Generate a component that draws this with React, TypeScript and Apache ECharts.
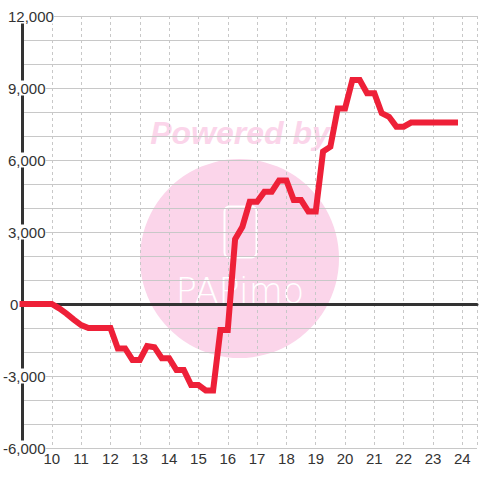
import React, { useEffect, useRef } from "react";
import * as echarts from "echarts";

// hours (x) and cumulative values (y)
const hours: number[] = [
  9, 9.25, 9.5, 9.75, 10, 10.25, 10.5, 10.75, 11, 11.25, 11.5, 11.75, 12,
  12.25, 12.5, 12.75, 13, 13.25, 13.5, 13.75, 14, 14.25, 14.5, 14.75, 15,
  15.25, 15.5, 15.75, 16, 16.25, 16.5, 16.75, 17, 17.25, 17.5, 17.75, 18,
  18.25, 18.5, 18.75, 19, 19.25, 19.5, 19.75, 20, 20.25, 20.5, 20.75, 21,
  21.25, 21.5, 21.75, 22, 22.25, 22.5, 22.75, 23, 23.25, 23.5, 23.75,
];
const values: number[] = [
  0, 0, 0, 0, 0, -180, -400, -650, -880, -1000, -1000, -1000, -1000,
  -1850, -1850, -2330, -2330, -1750, -1800, -2260, -2260, -2750, -2750, -3375, -3375,
  -3600, -3600, -1080, -1080, 2700, 3220, 4260, 4260, 4680, 4680, 5150, 5150,
  4330, 4330, 3850, 3850, 6350, 6550, 8150, 8150, 9330, 9330, 8780, 8780,
  7950, 7800, 7390, 7390, 7560, 7560, 7560, 7560, 7560, 7560, 7560,
];
const yMin = -6000;
const yMax = 12000;
const yStep = 1000;
const yLabelStep = 3000;
const xMin = 9;
const xMax = 24.5;
const watermarkTitle = "Powered by";
const watermarkBrand = "PAPimo";

const FONT = "'Liberation Sans', Arial, sans-serif";

export default function App() {
  const ref = useRef<HTMLDivElement>(null);
  useEffect(() => {
    if (!ref.current) return;
    const chart = echarts.init(ref.current, undefined, { renderer: "svg" });
    const data = hours.map((h, i) => [h, values[i]]);
    const pink = "#fbd5ea";
    const lab = { fontSize: 15, color: "#333", fontFamily: FONT };
    chart.setOption({
      animation: false,
      backgroundColor: "#fff",
      textStyle: { fontFamily: FONT },
      grid: { left: 20.5, top: 16, width: 465, height: 432, containLabel: false },
      xAxis: [
        {
          type: "value",
          min: xMin,
          max: xMax,
          interval: 1,
          position: "bottom",
          axisLine: { show: false, onZero: false },
          axisTick: { show: false },
          axisLabel: {
            margin: 3,
            fontSize: 15,
            color: "#333",
            fontFamily: FONT,
            formatter: (v: number) => (v === xMin || !Number.isInteger(v) ? "" : String(v)),
          },
          splitLine: { show: true, lineStyle: { color: "#c8c8c8", width: 1, type: [3, 3] } },
        },
        {
          type: "value",
          min: xMin,
          max: xMax,
          position: "top",
          axisLine: { show: true, onZero: true, lineStyle: { color: "#333", width: 3 } },
          axisTick: { show: false },
          axisLabel: { show: false },
          splitLine: { show: false },
        },
      ],
      yAxis: {
        type: "value",
        min: yMin,
        max: yMax,
        interval: yStep,
        axisLine: { show: true, onZero: false, lineStyle: { color: "#333", width: 3 } },
        axisTick: { show: false },
        axisLabel: {
          align: "left",
          margin: 19.5,
          fontSize: 15,
          color: "#333",
          fontFamily: FONT,
          backgroundColor: "#fff",
          formatter: (v: number) => {
            if (v % yLabelStep !== 0) return "";
            const s = v.toLocaleString("en-US");
            if (v < 0) return `{n|${s}}`;
            if (v === 0) return `{z|${s}}`;
            return `{p|${s}}`;
          },
          rich: {
            n: { ...lab, padding: [0, 0, 0, 0] },
            z: { ...lab, padding: [0, 0, 0, 7] },
            p: { ...lab, padding: [0, 0, 0, 5] },
          },
        },
        splitLine: { show: true, lineStyle: { color: "#c8c8c8", width: 1 } },
      },
      graphic: [
        {
          type: "circle",
          z: -1,
          silent: true,
          shape: { cx: 239.5, cy: 258.5, r: 99.5 },
          style: { fill: pink },
        },
        {
          type: "text",
          z: -1,
          silent: true,
          x: 240,
          y: 133,
          style: {
            text: watermarkTitle,
            fill: pink,
            font: "italic bold 32px 'Liberation Sans', Arial, sans-serif",
            textAlign: "center",
            textVerticalAlign: "middle",
          },
        },
        {
          type: "rect",
          z: -1,
          silent: true,
          shape: { x: 224.5, y: 206.5, width: 32, height: 51, r: 5 },
          style: { fill: "none", stroke: "#fff", lineWidth: 2 },
        },
        {
          type: "text",
          z: -1,
          silent: true,
          x: 240,
          y: 291,
          style: {
            text: watermarkBrand,
            fill: "#fff",
            font: "200 35px 'DejaVu Sans', sans-serif",
            textAlign: "center",
            textVerticalAlign: "middle",
          },
        },
      ],
      series: [
        {
          type: "line",
          xAxisIndex: 0,
          data,
          showSymbol: false,
          symbol: "none",
          lineStyle: { color: "#ee2038", width: 6, cap: "square", join: "miter" },
          z: 3,
        },
      ],
    });
    return () => chart.dispose();
  }, []);
  return (
    <div
      ref={ref}
      style={{ position: "fixed", left: 0, top: 0, width: 480, height: 480 }}
    />
  );
}
